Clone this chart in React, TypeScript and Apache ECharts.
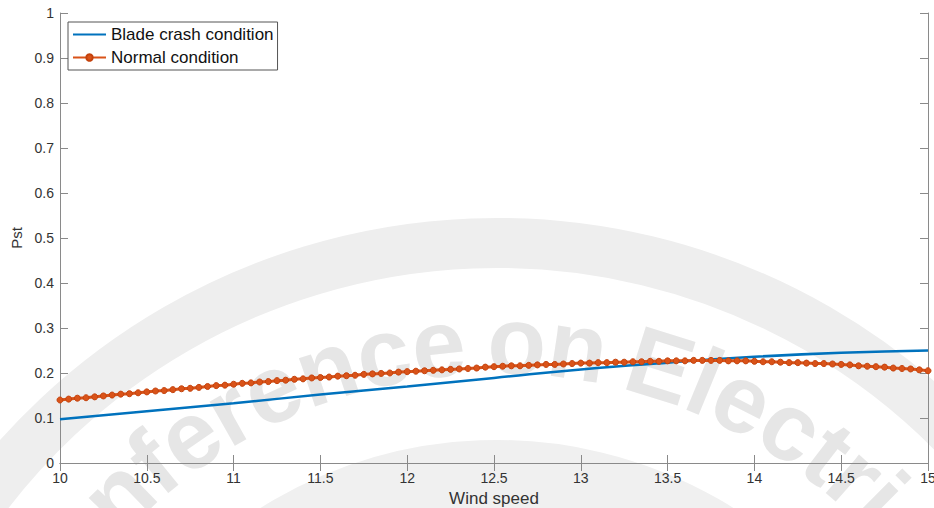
import React, { useEffect, useRef } from "react";
import * as echarts from "echarts";

const SERIES_NAMES = ["Blade crash condition", "Normal condition"];
const X_AXIS_NAME = "Wind speed";
const Y_AXIS_NAME = "Pst";

// Blade crash condition (solid blue line)
const BLADE_X = [10, 10.5, 11, 11.5, 12, 12.5, 13, 13.5, 14, 14.5, 15];
const BLADE_PST = [0.097, 0.115, 0.133, 0.152, 0.17, 0.189, 0.208, 0.223, 0.236, 0.245, 0.25];

// Normal condition (orange line with dot markers), sampled every 0.05 m/s from 10
const NORMAL_X_START = 10;
const NORMAL_X_STEP = 0.05;
const NORMAL_PST = [
  0.14,
  0.142, 0.144, 0.145, 0.147, 0.149, 0.151, 0.153, 0.154, 0.156, 0.158,
  0.16, 0.161, 0.163, 0.165, 0.166, 0.168, 0.17, 0.172, 0.173, 0.175,
  0.177, 0.178, 0.18, 0.181, 0.183, 0.184, 0.186, 0.187, 0.189, 0.19,
  0.191, 0.193, 0.194, 0.195, 0.197, 0.198, 0.199, 0.2, 0.202, 0.203,
  0.204, 0.205, 0.206, 0.207, 0.208, 0.209, 0.21, 0.211, 0.213, 0.214,
  0.215, 0.216, 0.216, 0.217, 0.218, 0.219, 0.219, 0.22, 0.221, 0.222,
  0.222, 0.223, 0.223, 0.224, 0.224, 0.225, 0.225, 0.226, 0.226, 0.227,
  0.227, 0.227, 0.228, 0.228, 0.228, 0.228, 0.227, 0.227, 0.227, 0.226,
  0.225, 0.225, 0.224, 0.223, 0.223, 0.222, 0.221, 0.221, 0.22, 0.219,
  0.218, 0.216, 0.215, 0.214, 0.213, 0.211, 0.21, 0.209, 0.207, 0.205,
];

const X_MIN = 10;
const X_MAX = 15;
const X_INTERVAL = 0.5;
const Y_MIN = 0;
const Y_MAX = 1;
const Y_INTERVAL = 0.1;

const WATERMARK = "Conference on Electric";

const FONT = "'Liberation Sans', Arial, Helvetica, sans-serif";
const BLUE = "#0072BD";
const ORANGE = "#D95319";
const AXIS_COLOR = "#8a8a8a";
const LABEL_COLOR = "#333333";

// approximate bold glyph widths (em) for laying the watermark along an arc
const GLYPH_W: Record<string, number> = {
  C: 0.722, o: 0.611, n: 0.611, f: 0.333, e: 0.556, r: 0.389, c: 0.556,
  " ": 0.2, E: 0.667, l: 0.278, t: 0.333, i: 0.278,
};

function watermarkElements() {
  const cx = 497;
  const cy = 885;
  const R = 545;
  const degPerEm = 10.6;
  const chars = WATERMARK.split("");
  const centers: number[] = [];
  let acc = 0;
  chars.forEach((ch) => {
    const w = GLYPH_W[ch] ?? 0.556;
    centers.push(acc + w / 2);
    acc += w;
  });
  const anchorIdx = 2; // the first "n"
  const anchorDeg = -44.2;
  const els: any[] = [
    {
      type: "circle",
      silent: true,
      z: -10,
      shape: { cx, cy, r: 642 },
      style: { fill: "none", stroke: "#eeeeee", lineWidth: 50 },
    },
    {
      type: "circle",
      silent: true,
      z: -10,
      shape: { cx, cy, r: 400 },
      style: { fill: "none", stroke: "#f0f0f0", lineWidth: 90 },
    },
  ];
  chars.forEach((ch, i) => {
    if (ch === " ") return;
    const deg = anchorDeg + (centers[i] - centers[anchorIdx]) * degPerEm;
    const rad = (deg * Math.PI) / 180;
    els.push({
      type: "text",
      silent: true,
      z: -9,
      x: cx + R * Math.sin(rad),
      y: cy - R * Math.cos(rad),
      rotation: -rad,
      style: {
        text: ch,
        fontFamily: FONT,
        fontWeight: "bold",
        fontSize: 96,
        fill: "#e6e6e6",
        align: "center",
        verticalAlign: "middle",
      },
    });
  });
  return els;
}

export default function App() {
  const ref = useRef<HTMLDivElement>(null);

  useEffect(() => {
    if (!ref.current) return;
    const chart = echarts.init(ref.current, null, { renderer: "svg" });

    const bladeData = BLADE_X.map((x, i) => [x, BLADE_PST[i]]);
    const normalData = NORMAL_PST.map((v, i) => [
      +(NORMAL_X_START + i * NORMAL_X_STEP).toFixed(2),
      v,
    ]);

    const tickStyle = { show: true, inside: true, length: 8, lineStyle: { color: AXIS_COLOR } };
    const lineStyle = { show: true, lineStyle: { color: AXIS_COLOR, width: 1 } };

    chart.setOption({
      animation: false,
      backgroundColor: "#ffffff",
      textStyle: { fontFamily: FONT },
      graphic: watermarkElements(),
      grid: {
        left: 60,
        right: 6,
        top: 13,
        bottom: 45,
        containLabel: false,
        outerBoundsMode: "none",
      },
      legend: {
        show: true,
        orient: "vertical",
        left: 68,
        top: 22,
        padding: [4, 4, 4, 4],
        itemGap: 6,
        itemWidth: 33,
        itemHeight: 8,
        backgroundColor: "#ffffff",
        borderColor: "#555555",
        borderWidth: 1,
        borderRadius: 0,
        textStyle: { fontFamily: FONT, fontSize: 17, color: "#111111", lineHeight: 17 },
        data: [
          { name: SERIES_NAMES[0], itemStyle: { opacity: 0 } },
          { name: SERIES_NAMES[1] },
        ],
      },
      xAxis: [
        {
          type: "value",
          min: X_MIN,
          max: X_MAX,
          interval: X_INTERVAL,
          position: "bottom",
          name: X_AXIS_NAME,
          nameLocation: "middle",
          nameGap: 26,
          nameTextStyle: { fontFamily: FONT, fontSize: 17, color: LABEL_COLOR },
          axisLine: lineStyle,
          axisTick: tickStyle,
          splitLine: { show: false },
          axisLabel: { fontFamily: FONT, fontSize: 14, color: LABEL_COLOR, margin: 8 },
        },
        {
          type: "value",
          min: X_MIN,
          max: X_MAX,
          interval: X_INTERVAL,
          position: "top",
          axisLine: lineStyle,
          axisTick: tickStyle,
          splitLine: { show: false },
          axisLabel: { show: false },
        },
      ],
      yAxis: [
        {
          type: "value",
          min: Y_MIN,
          max: Y_MAX,
          interval: Y_INTERVAL,
          position: "left",
          name: Y_AXIS_NAME,
          nameLocation: "middle",
          nameGap: 31,
          nameRotate: 90,
          nameTextStyle: { fontFamily: FONT, fontSize: 15, color: LABEL_COLOR },
          axisLine: lineStyle,
          axisTick: tickStyle,
          splitLine: { show: false },
          axisLabel: { fontFamily: FONT, fontSize: 14, color: LABEL_COLOR, margin: 6 },
        },
        {
          type: "value",
          min: Y_MIN,
          max: Y_MAX,
          interval: Y_INTERVAL,
          position: "right",
          axisLine: lineStyle,
          axisTick: tickStyle,
          splitLine: { show: false },
          axisLabel: { show: false },
        },
      ],
      series: [
        {
          name: SERIES_NAMES[0],
          type: "line",
          data: bladeData,
          smooth: true,
          showSymbol: false,
          symbol: "none",
          lineStyle: { color: BLUE, width: 2.5 },
          itemStyle: { color: BLUE },
          z: 3,
        },
        {
          name: SERIES_NAMES[1],
          type: "line",
          data: normalData,
          symbol: "circle",
          symbolSize: 6,
          showAllSymbol: true,
          lineStyle: { color: ORANGE, width: 3 },
          itemStyle: { color: ORANGE, borderColor: "#c4420c", borderWidth: 1 },
          z: 4,
        },
      ],
    });

    return () => chart.dispose();
  }, []);

  return (
    <div
      ref={ref}
      style={{ position: "fixed", left: 0, top: 0, width: 934, height: 508, background: "#fff" }}
    />
  );
}
